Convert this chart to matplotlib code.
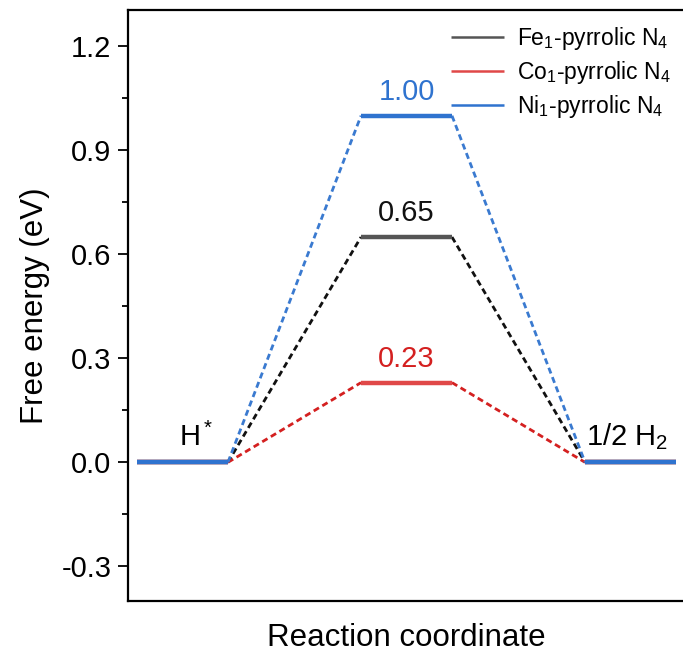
import matplotlib
matplotlib.use("Agg")
import matplotlib.pyplot as plt
from matplotlib.ticker import MultipleLocator

plt.rcParams["font.family"] = ["Liberation Sans", "DejaVu Sans"]
plt.rcParams["mathtext.fontset"] = "custom"
plt.rcParams["mathtext.rm"] = "Liberation Sans"
plt.rcParams["mathtext.it"] = "Liberation Sans:italic"

# Free energy of each state: H*, transition, 1/2 H2
states = ["H*", "TS", "1/2 H2"]
fe_energy = [0.0, 0.65, 0.0]
co_energy = [0.0, 0.23, 0.0]
ni_energy = [0.0, 1.00, 0.0]

series = [
    ("Fe$_1$-pyrrolic N$_4$", fe_energy, "#555555", "#111111", "#111111"),
    ("Co$_1$-pyrrolic N$_4$", co_energy, "#e04848", "#d42020", "#d42020"),
    ("Ni$_1$-pyrrolic N$_4$", ni_energy, "#2f73cf", "#3a7ad0", "#2f73cf"),
]

HALF = 0.203  # half width of each level bar

fig = plt.figure(figsize=(6.83, 6.54), dpi=100)
ax = fig.add_axes([128 / 683, 53 / 654, 557 / 683, 591 / 654])

for label, energy, c_level, c_dash, c_text in series:
    for i in range(len(energy) - 1):
        ax.plot([i + HALF, i + 1 - HALF], [energy[i], energy[i + 1]],
                linestyle=(0, (2.2, 1.4)), color=c_dash, linewidth=2.0,
                zorder=2)
    for i, e in enumerate(energy):
        ax.plot([i - HALF, i + HALF], [e, e], color=c_level, linewidth=3.2,
                solid_capstyle="butt", zorder=3,
                label=label if i == 0 else None)
    ax.text(1, energy[1] + 0.028, f"{energy[1]:.2f}", color=c_text,
            ha="center", va="bottom", fontsize=21)

ax.text(0.06, 0.03, "H$^*$", ha="center", va="bottom", fontsize=21)
ax.text(1.985, 0.03, "1/2 H$_2$", ha="center", va="bottom", fontsize=21)

ax.set_xlim(-0.243, 2.243)
ax.set_ylim(-0.4, 1.305)
ax.yaxis.set_major_locator(MultipleLocator(0.3))
ax.yaxis.set_minor_locator(MultipleLocator(0.15))
ax.set_yticks([-0.3, 0.0, 0.3, 0.6, 0.9, 1.2])
ax.set_yticklabels(["-0.3", "0.0", "0.3", "0.6", "0.9", "1.2"])
ax.set_xticks([])
ax.tick_params(axis="y", which="major", direction="out", length=7,
               width=1.3, labelsize=21, pad=5)
ax.tick_params(axis="y", which="minor", direction="out", length=4, width=1.3)
for sp in ax.spines.values():
    sp.set_linewidth(1.6)

ax.set_ylabel("Free energy (eV)", fontsize=22.5, labelpad=8)
ax.set_xlabel("Reaction coordinate", fontsize=22.5, labelpad=16)

leg = ax.legend(loc="upper right", bbox_to_anchor=(1.0, 0.998),
                frameon=False, fontsize=16.5, handlelength=2.3,
                handletextpad=0.6, labelspacing=0.3, borderaxespad=0.2)
for h in leg.get_lines():
    h.set_linewidth(1.8)

fig.savefig("out.png", dpi=100)
